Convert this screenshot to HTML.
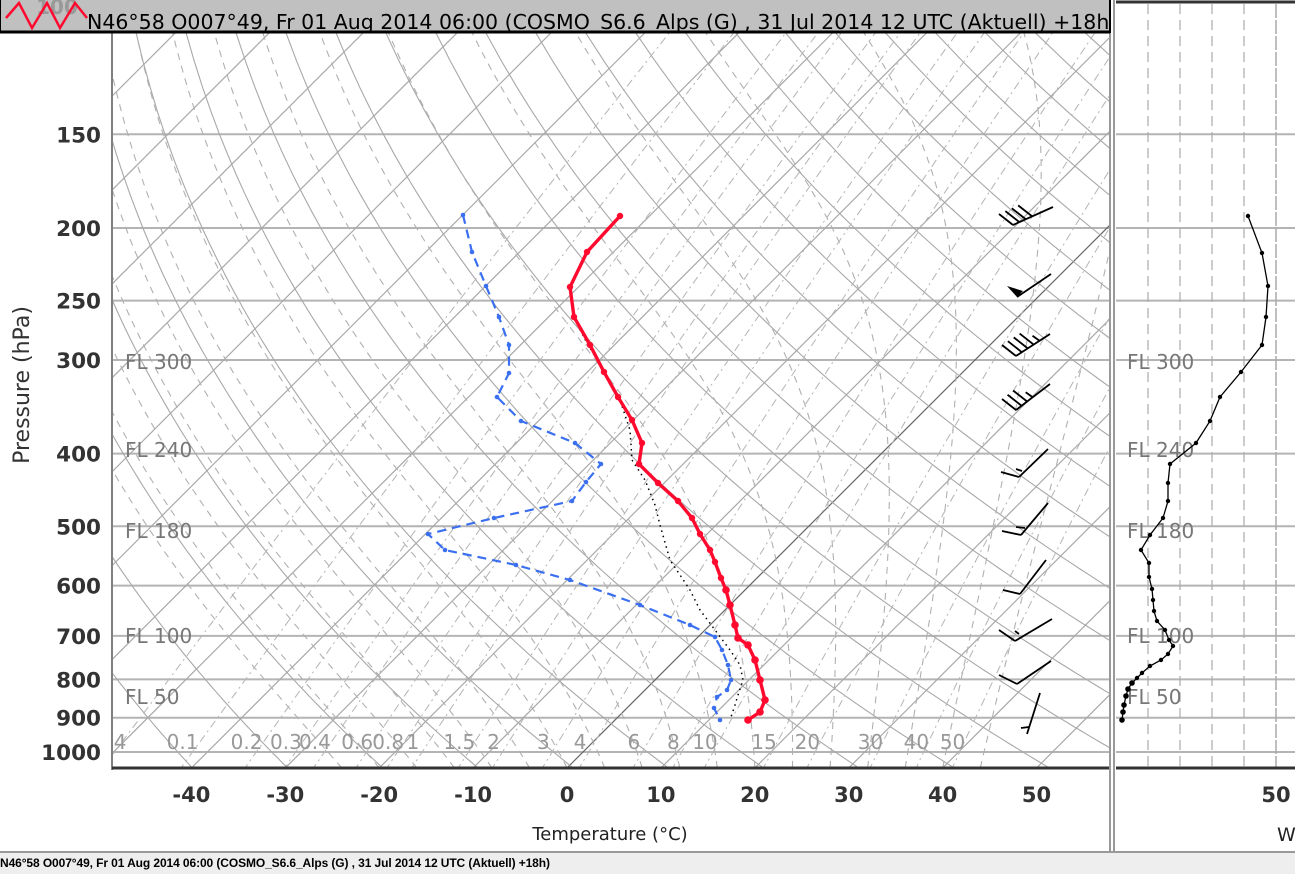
<!DOCTYPE html>
<html><head><meta charset="utf-8"><style>
body{margin:0;width:1295px;height:874px;overflow:hidden;background:#fff;font-family:"DejaVu Sans","Liberation Sans",sans-serif}
svg{position:absolute;left:0;top:0}
</style></head><body>
<svg id="s" width="1295" height="874" xmlns="http://www.w3.org/2000/svg" font-family="DejaVu Sans, Liberation Sans, sans-serif">
<defs><clipPath id="c"><rect x="113" y="33" width="997" height="735"/></clipPath>
<clipPath id="c2"><rect x="1116" y="4" width="179" height="764"/></clipPath>
<clipPath id="ct"><rect x="0" y="0" width="1109" height="33"/></clipPath></defs>
<g id="grid" clip-path="url(#c)"></g>
<g id="grid2" clip-path="url(#c2)"></g>
<g id="fg"></g>
</svg>
<script>
const NS="http://www.w3.org/2000/svg";
function el(p,t,a,txt){const e=document.createElementNS(NS,t);for(const k in a)e.setAttribute(k,a[k]);if(txt!==undefined)e.textContent=txt;p.appendChild(e);return e;}
const g=document.getElementById('grid'),g2=document.getElementById('grid2'),fg=document.getElementById('fg');
const Y=p=>752-325.6*Math.log(1000/p);
const X=(T,y)=>567+9.39*T+(768-y);
const levels=[100,150,200,250,300,400,500,600,700,800,900,1000];
levels.forEach(p=>{el(g,'line',{x1:113,x2:1110,y1:Y(p),y2:Y(p),stroke:'#b4b4b4','stroke-width':2});
 el(g2,'line',{x1:1116,x2:1295,y1:Y(p),y2:Y(p),stroke:'#b4b4b4','stroke-width':2});});
function poly(par,pts,attrs){attrs.points=pts.map(q=>q[0].toFixed(1)+','+q[1].toFixed(1)).join(' ');attrs.fill='none';return el(par,'polyline',attrs);}
for(let T=-150;T<=60;T+=10){const y1=790,y2=0;el(g,'line',{x1:X(T,y1),y1:y1,x2:X(T,y2),y2:y2,stroke:T==0?'#666':'#a8a8a8','stroke-width':1.2});}
for(let th=230;th<=560;th+=10){const pts=[];for(let p=1060;p>=90;p-=10){const T=th*Math.pow(p/1000,0.2857)-273.15;const y=Y(p);pts.push([X(T,y),y]);}poly(g,pts,{stroke:'#a8a8a8','stroke-width':1.1});}
function es(T){return 6.112*Math.exp(17.67*T/(T+243.5));}
for(let T0=-24;T0<=44;T0+=4){let T=T0+273.15;const pts=[];for(let p=1050;p>=100;p-=5){const y=Y(p);pts.push([X(T-273.15,y),y]);const rs=0.622*es(T-273.15)/(p-es(T-273.15));const Lv=2.5e6,Rd=287,cp=1004;const dTdp=(Rd*T+Lv*rs)/(p*(cp+Lv*Lv*rs*0.622/(Rd*T*T)));T-=dTdp*5;}
poly(g,pts,{stroke:'#b0b0b0','stroke-width':1.1,'stroke-dasharray':'7,6'});}
const ws=[0.04,0.1,0.2,0.3,0.4,0.6,0.8,1,1.5,2,3,4,6,8,10,15,20,30,40,50];
ws.forEach(w=>{const pts=[];for(let p=1060;p>=100;p-=20){const e=w*p/(622+w);const l=Math.log(e/6.112);const T=243.5*l/(17.67-l);const y=Y(p);pts.push([X(T,y),y]);}
poly(g,pts,{stroke:'#b4b4b4','stroke-width':1,'stroke-dasharray':'8,4,2,4'});
const p=1034,e=w*p/(622+w),l=Math.log(e/6.112),T=243.5*l/(17.67-l);
el(g,'text',{x:X(T,741)-24,y:749,'text-anchor':'middle','font-size':20,fill:'#999'},String(w));});
[1148,1180,1212,1244].forEach(x=>el(g2,'line',{x1:x,x2:x,y1:4,y2:768,stroke:'#aaa','stroke-width':1.2,'stroke-dasharray':'10,6'}));
el(g2,'line',{x1:1276,x2:1276,y1:4,y2:768,stroke:'#aaa','stroke-width':1.5,'stroke-dasharray':'14,2'});
[['FL 300',369],['FL 240',457],['FL 180',538],['FL 100',643],['FL 50',704]].forEach(a=>{
 el(fg,'text',{x:125,y:a[1],'font-size':20,fill:'#777'},a[0]);el(fg,'text',{x:1127,y:a[1],'font-size':20,fill:'#777'},a[0]);});
const red=[[620,216],[587,252],[570,287],[574,317],[590,345],[604,372],[618,397],[632,420],[642,443],[639,464],[658,483],[678,501],[692,518],[700,534],[710,550],[715,562],[721,578],[726,590],[730,605],[735,625],[738,638],[748,645],[755,660],[760,680],[765,700],[760,712],[748,720]];
const blue=[[463,215],[472,252],[486,286],[499,317],[509,345],[509,373],[497,397],[521,421],[575,443],[601,464],[586,482],[572,501],[494,518],[428,534],[445,550],[516,565],[570,580],[640,605],[690,625],[715,637],[722,650],[728,665],[731,680],[727,690],[717,697],[714,708],[720,720]];
const par=[[570,287],[575,320],[588,345],[605,372],[620,400],[630,430],[632,460],[645,480],[655,505],[660,525],[670,560],[690,590],[700,610],[715,630],[730,650],[740,665],[743,680],[738,695],[735,705],[730,720]];
poly(fg,par,{stroke:'#000','stroke-width':1.5,'stroke-dasharray':'1.5,4'});
poly(fg,blue,{stroke:'#3a6ff0','stroke-width':2.2,'stroke-dasharray':'9,6'});
blue.forEach(q=>el(fg,'circle',{cx:q[0],cy:q[1],r:2.3,fill:'#3a6ff0'}));
poly(fg,red,{stroke:'#ff0a2e','stroke-width':3.4});
red.forEach((q,i)=>el(fg,'circle',{cx:q[0],cy:q[1],r:i>16?3.8:3.2,fill:'#ff0a2e'}));
const wp=[[1248,216],[1262,253],[1268,286],[1266,317],[1262,345],[1241,372],[1220,397],[1210,421],[1196,443],[1170,464],[1168,483],[1168,501],[1163,518],[1150,535],[1141,550],[1149,563],[1149,577],[1152,589],[1153,600],[1154,611],[1157,621],[1165,630],[1169,640],[1173,646],[1168,654],[1161,660],[1150,666],[1142,673],[1137,678],[1132,683],[1128,689],[1126,696],[1124,705],[1123,712],[1122,720]];
poly(fg,wp,{stroke:'#000','stroke-width':1.3});
wp.forEach((q,i)=>el(fg,'circle',{cx:q[0],cy:q[1],r:i>28?2.8:2.2,fill:'#000'}));
const L=(a,b,c,d,w)=>el(fg,'line',{x1:a,y1:b,x2:c,y2:d,stroke:'#000','stroke-width':w||1.8});
function barb(bx,by,tx,ty,n,half){L(bx,by,tx,ty);const dx=(tx-bx),dy=(ty-by),len=Math.hypot(dx,dy),ux=dx/len,uy=dy/len;
 for(let i=0;i<n;i++){const sx=bx+ux*7*i,sy=by+uy*7*i;L(sx,sy,sx-14,sy-11);}
 if(half){const sx=bx+ux*7*n,sy=by+uy*7*n;L(sx,sy,sx-7,sy-5);}}
barb(1013,225,1053,207,4,0);
L(1017,297,1051,274);el(fg,'polygon',{points:'1007,286 1017,297 1023,291',fill:'#000'});
barb(1016,356,1050,334,4,1);
barb(1016,410,1050,384,3,1);
L(1019,477,1048,449);L(1019,477,1001,472);L(1022,471,1016,469);
L(1021,535,1048,503);L(1021,535,1002,531);L(1025,528,1016,527);
L(1020,594,1046,560);L(1020,594,1003,590);
L(1015,641,1052,619);L(1015,641,999,630);L(1019,634,1015,631);
L(1017,684,1051,661);L(1017,684,999,675);
L(1027,734,1040,693);L(1029,727,1021,728);
L(112,33,112,770,'#333');el(fg,'line',{x1:112,y1:768,x2:1110,y2:768,stroke:'#333','stroke-width':3});
el(fg,'line',{x1:1116,y1:768,x2:1295,y2:768,stroke:'#333','stroke-width':3});
el(fg,'line',{x1:1110,y1:0,x2:1110,y2:852,stroke:'#999','stroke-width':2});
el(fg,'line',{x1:1114,y1:0,x2:1114,y2:852,stroke:'#999','stroke-width':2});
el(fg,'line',{x1:1116,y1:2,x2:1295,y2:2,stroke:'#333','stroke-width':3});
levels.slice(1).forEach(p=>el(fg,'text',{x:101,y:Y(p)+8,'text-anchor':'end','font-size':21.5,'font-weight':'bold',fill:'#333'},String(p)));
[-40,-30,-20,-10,0,10,20,30,40,50].forEach(t=>el(fg,'text',{x:567+9.39*t,y:802,'text-anchor':'middle','font-size':21,'font-weight':'bold',fill:'#333'},String(t)));
el(fg,'text',{x:1276,y:802,'text-anchor':'middle','font-size':21,'font-weight':'bold',fill:'#333'},'50');
el(fg,'text',{x:1277,y:841,'font-size':19,fill:'#222'},'W');
el(fg,'text',{x:610,y:840,'text-anchor':'middle','font-size':18,fill:'#222'},'Temperature (°C)');
el(fg,'text',{x:29,y:385,'text-anchor':'middle','font-size':22,fill:'#333',transform:'rotate(-90 29 385)'},'Pressure (hPa)');
const tb=el(fg,'g',{'clip-path':'url(#ct)'});
el(tb,'rect',{x:0,y:0,width:1110,height:32,fill:'#c0c0c0'});
el(tb,'text',{x:57,y:14,'text-anchor':'middle','font-size':20,'font-weight':'bold',fill:'#999'},'100');
poly(tb,[[6,18],[19,3],[32,28],[47,3],[60,28],[75,3],[87,18]],{stroke:'#ff0a2e','stroke-width':2.5});
el(tb,'text',{x:87,y:29,'font-size':20.5,fill:'#000'},'N46°58 O007°49, Fr 01 Aug 2014 06:00 (COSMO_S6.6_Alps (G) , 31 Jul 2014 12 UTC (Aktuell) +18h)');
el(fg,'line',{x1:0,y1:32,x2:1110,y2:32,stroke:'#000','stroke-width':3});
el(fg,'line',{x1:0,y1:0,x2:0,y2:33,stroke:'#000','stroke-width':2});
el(fg,'line',{x1:1110,y1:0,x2:1110,y2:33,stroke:'#000','stroke-width':2});
el(fg,'rect',{x:0,y:852,width:1295,height:22,fill:'#eeeeee'});
el(fg,'line',{x1:0,y1:852,x2:1295,y2:852,stroke:'#999','stroke-width':2});
el(fg,'text',{x:0,y:867,'font-size':12,'font-weight':'bold',fill:'#000','font-family':'Liberation Sans, sans-serif',textLength:550},'N46°58 O007°49, Fr 01 Aug 2014 06:00 (COSMO_S6.6_Alps (G) , 31 Jul 2014 12 UTC (Aktuell) +18h)');
</script>
</body></html>
